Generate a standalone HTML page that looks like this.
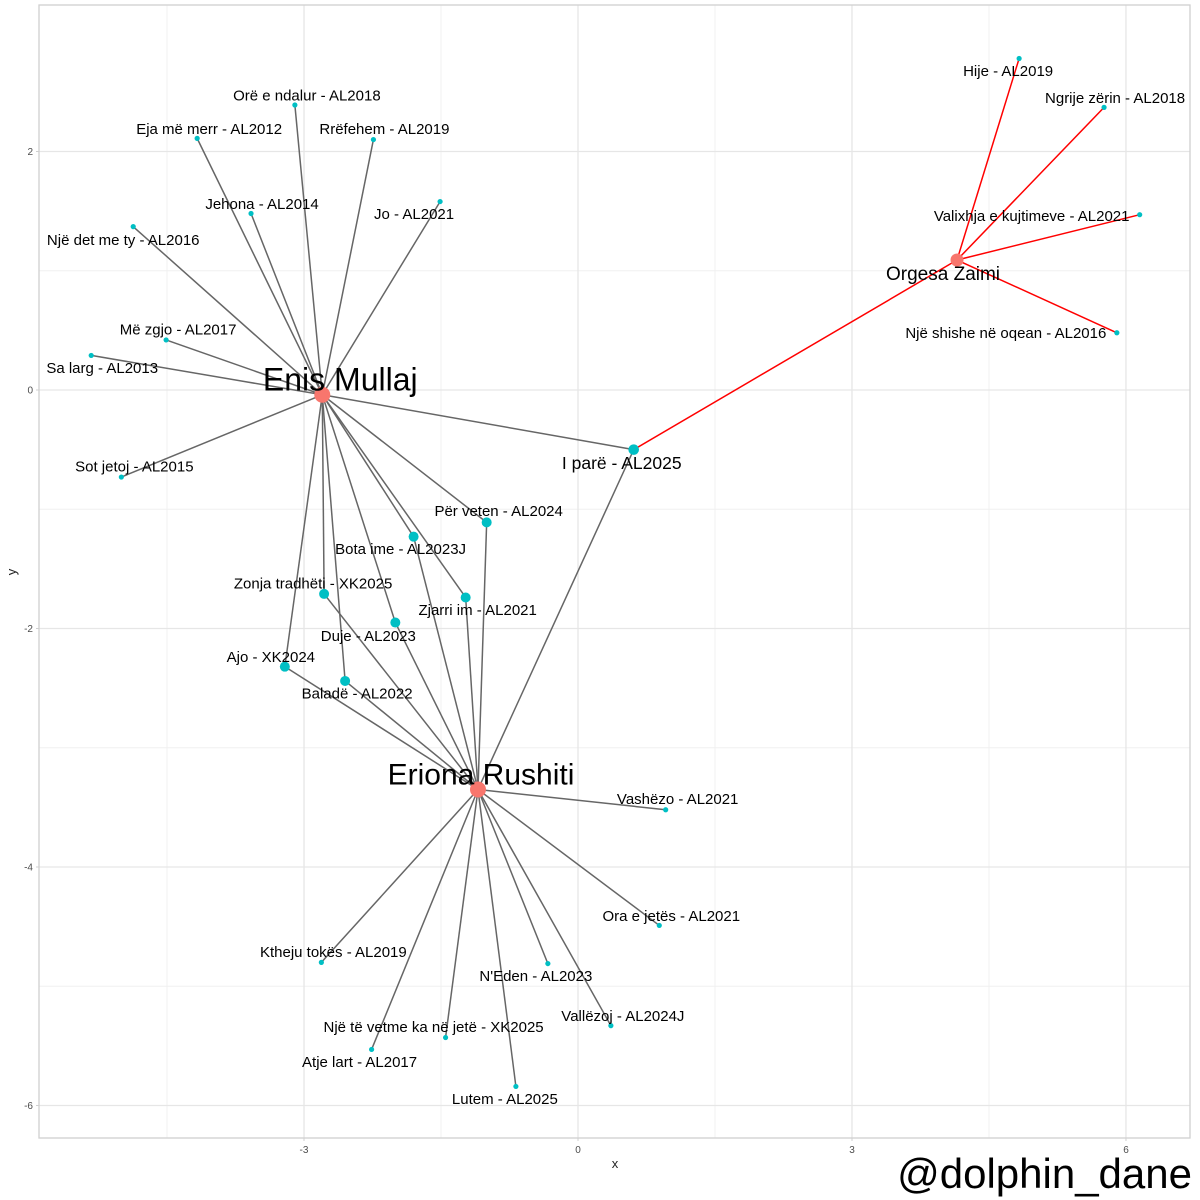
<!DOCTYPE html>
<html><head><meta charset="utf-8"><style>
html,body{margin:0;padding:0;background:#fff;}
svg{display:block;font-family:"Liberation Sans",Arial,sans-serif;}
</style></head><body>
<svg id="chart" width="1200" height="1200" viewBox="0 0 1200 1200">
<rect x="0" y="0" width="1200" height="1200" fill="#fff"/>
<g id="grid"></g>
<g id="edges"></g>
<g id="nodes"></g>
<g id="labels"></g>
<g id="axes"></g>
<text x="615" y="1168" font-size="13" fill="#222" text-anchor="middle">x</text>
<text x="16" y="572" font-size="13" fill="#222" text-anchor="middle" transform="rotate(-90 16 572)">y</text>
<text x="1192" y="1188" font-size="42" fill="#000" text-anchor="end">@dolphin_dane</text>
</svg>
<script>
const nodeNames = ["Enis Mullaj","Eriona Rushiti","Orgesa Zaimi","I parë - AL2025",
"Hije - AL2019","Ngrije zërin - AL2018","Valixhja e kujtimeve - AL2021","Një shishe në oqean - AL2016",
"Orë e ndalur - AL2018","Eja më merr - AL2012","Rrëfehem - AL2019","Jehona - AL2014","Jo - AL2021",
"Një det me ty - AL2016","Më zgjo - AL2017","Sa larg - AL2013","Sot jetoj - AL2015",
"Për veten - AL2024","Bota ime - AL2023J","Zjarri im - AL2021","Zonja tradhëti - XK2025","Duje - AL2023",
"Ajo - XK2024","Baladë - AL2022","Vashëzo - AL2021","Ora e jetës - AL2021","Ktheju tokës - AL2019",
"N'Eden - AL2023","Vallëzoj - AL2024J","Një të vetme ka në jetë - XK2025","Atje lart - AL2017","Lutem - AL2025"];
const nodeX = [-2.80,-1.095,4.15,0.61, 4.83,5.76,6.15,5.90, -3.10,-4.17,-2.24,-3.58,-1.51, -4.87,-4.51,-5.33,-5.00,
 -1.00,-1.80,-1.23,-2.78,-2.00, -3.21,-2.55,0.96,0.89,-2.81, -0.33,0.36,-1.45,-2.26,-0.68];
const nodeY = [-0.04,-3.35,1.09,-0.50, 2.78,2.37,1.47,0.48, 2.39,2.11,2.10,1.48,1.58, 1.37,0.42,0.29,-0.73,
 -1.11,-1.23,-1.74,-1.71,-1.95, -2.32,-2.44,-3.52,-4.49,-4.80, -4.81,-5.33,-5.43,-5.53,-5.84];
// node type: 0 artist, 1 shared song, 2 single song
const nodeType = [0,0,0,1, 2,2,2,2, 2,2,2,2,2, 2,2,2,2, 1,1,1,1,1, 1,1,2,2,2, 2,2,2,2,2];
// label offsets (layout)
const labelDX = [18,3,-14,-12, -11,11,-108,-111, 12,12,11,11,-26, -10,12,11,13, 12,-13,12,-11,-27, -14,12,12,12,12, -12,12,-12,-12,-11];
const labelDY = [-16,-16,13,13, 12,-10,1,0, -10,-10,-11,-10,12, 13,-11,12,-11, -12,12,12,-11,13, -10,12,-11,-10,-11, 12,-10,-11,12,12];
const edgeFrom = [0,0,0,0,0,0,0,0,0,0,0,0,0,0,0,0,0,
 1,1,1,1,1,1,1,1,1,1,1,1,1,1,1,1, 2,2,2,2,2];
const edgeTo = [8,9,10,11,12,13,14,15,16,3,17,18,19,20,21,22,23,
 3,17,18,19,20,21,22,23,24,25,26,27,28,29,30,31, 4,5,6,7,3];
const xTicks = [-3,0,3,6];
const yTicks = [2,0,-2,-4,-6];
const xMinor = [-4.5,-1.5,1.5,4.5];
const yMinor = [1,-1,-3,-5];

const NS="http://www.w3.org/2000/svg";
const L=39,R=1190,T=5,B=1138;
const sx=v=>578+v*91.33, sy=v=>390-v*119.25;
function mk(tag,parent,attrs){const e=document.createElementNS(NS,tag);for(const k in attrs)e.setAttribute(k,attrs[k]);document.getElementById(parent).appendChild(e);return e;}
// grid
xMinor.forEach(v=>{const e=mk("line","grid",{x1:sx(v),x2:sx(v),y1:T,y2:B,stroke:"#f0f0f0","stroke-width":1});

});
yMinor.forEach(v=>{const e=mk("line","grid",{x1:L,x2:R,y1:sy(v),y2:sy(v),stroke:"#f0f0f0","stroke-width":1});

});
xTicks.forEach(v=>{const e=mk("line","grid",{x1:sx(v),x2:sx(v),y1:T,y2:B,stroke:"#e6e6e6","stroke-width":1.3});

});
yTicks.forEach(v=>{const e=mk("line","grid",{x1:L,x2:R,y1:sy(v),y2:sy(v),stroke:"#e6e6e6","stroke-width":1.3});

});
const fr=mk("rect","axes",{x:L,y:T,width:R-L,height:B-T,fill:"none",stroke:"#d0d0d0","stroke-width":1.3});


xTicks.forEach(v=>{const t=mk("text","axes",{x:sx(v),y:B+15,"font-size":10,fill:"#4d4d4d","text-anchor":"middle"});t.textContent=v<0?"-"+Math.abs(v):v;


mk("line","axes",{x1:sx(v),x2:sx(v),y1:B,y2:B+3,stroke:"#d0d0d0"});});
yTicks.forEach(v=>{const t=mk("text","axes",{x:L-6,y:sy(v)+3.5,"font-size":10,fill:"#4d4d4d","text-anchor":"end"});t.textContent=v<0?"-"+Math.abs(v):v;


mk("line","axes",{x1:L-3,x2:L,y1:sy(v),y2:sy(v),stroke:"#d0d0d0"});});
// edges
edgeFrom.forEach((f,i)=>{const t=edgeTo[i];
const e=mk("line","edges",{x1:sx(nodeX[f]),y1:sy(nodeY[f]),x2:sx(nodeX[t]),y2:sy(nodeY[t]),stroke:f===2?"#ff0000":"#666666","stroke-width":1.5});

});
// nodes and labels
const rad=[8,5,2.6], fs=[30,15,15];
nodeNames.forEach((n,i)=>{const ty=nodeType[i];
let r=rad[ty]; if(i===3) r=5.3; if(i===2) r=6.5;
const c=mk("circle","nodes",{cx:sx(nodeX[i]),cy:sy(nodeY[i]),r:r,fill:ty===0?"#f8766d":"#00bfc4"});


let f=fs[ty]; if(i===0) f=32; if(i===1) f=30; if(i===2) f=19; if(i===3) f=17.5;
const t=mk("text","labels",{x:sx(nodeX[i])+labelDX[i],y:sy(nodeY[i])+labelDY[i]+f*0.36,"font-size":f,fill:"#000","text-anchor":"middle"});
t.textContent=n;

});
</script>
</body></html>
